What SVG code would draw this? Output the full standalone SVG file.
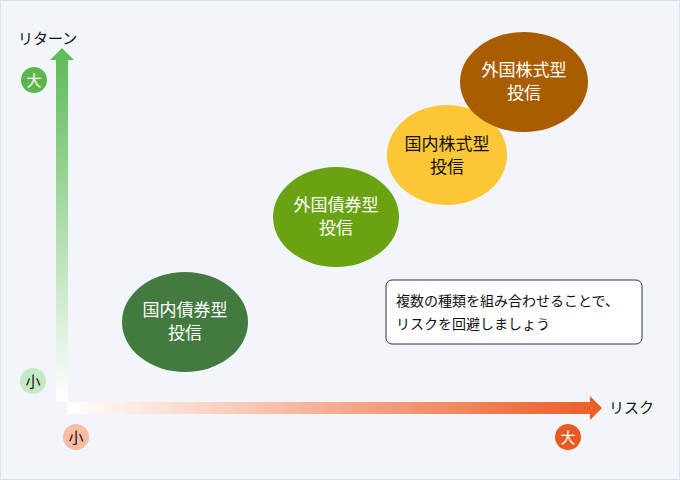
<svg xmlns="http://www.w3.org/2000/svg" width="680" height="480" viewBox="0 0 680 480">
<defs>
<linearGradient id="gv" x1="0" y1="1" x2="0" y2="0"><stop offset="0" stop-color="#ffffff"/><stop offset="1" stop-color="#5cbb55"/></linearGradient>
<linearGradient id="gh" x1="0" y1="0" x2="1" y2="0"><stop offset="0" stop-color="#ffffff"/><stop offset="1" stop-color="#ec5b24"/></linearGradient>
<style>
text{font-family:"Noto Sans CJK JP","Noto Sans",sans-serif;}
.lab{font-size:15px;fill:#111;}
.n{font-size:17px;fill:#fff;text-anchor:middle;}
.b{font-size:15px;text-anchor:middle;}
</style>
</defs>
<rect x="0.5" y="0.5" width="679" height="479" fill="#f2f6fb" stroke="#d8e0ea"/>
<g id="axes">
<path d="M56 402 V60 H50 L62 48 L74 60 H68 V402 Z" fill="url(#gv)"/>
<path d="M67 402 H590 V396 L602 408 L590 420 V414 H67 Z" fill="url(#gh)"/>
<text class="lab" x="18" y="44">リターン</text>
<text class="lab" x="609" y="413">リスク</text>
</g>
<g id="scale">
<circle cx="34" cy="80" r="13" fill="#5cb84a"/><text class="b" x="34" y="86" fill="#fff">大</text>
<circle cx="33" cy="381" r="13" fill="#c5e8c5"/><text class="b" x="33" y="387" fill="#111">小</text>
<circle cx="76" cy="437" r="13" fill="#f7bca4"/><text class="b" x="76" y="443" fill="#111">小</text>
<circle cx="568" cy="437" r="13" fill="#e65a25"/><text class="b" x="568" y="443" fill="#fff">大</text>
</g>
<g id="n1"><ellipse cx="185" cy="322" rx="63" ry="50" fill="#437a3f"/><text class="n" x="185" y="316">国内債券型</text><text class="n" x="185" y="339">投信</text></g>
<g id="n2"><ellipse cx="336" cy="217" rx="63" ry="50" fill="#6aa312"/><text class="n" x="336" y="211">外国債券型</text><text class="n" x="336" y="234">投信</text></g>
<g id="n3"><ellipse cx="447" cy="155" rx="60" ry="50" fill="#fcc736"/><text class="n" x="447" y="150" fill="#111" style="fill:#111">国内株式型</text><text class="n" x="447" y="173" style="fill:#111">投信</text></g>
<g id="n4"><ellipse cx="524" cy="82" rx="64" ry="50" fill="#a95d00"/><text class="n" x="524" y="76">外国株式型</text><text class="n" x="524" y="99">投信</text></g>
<g id="note"><rect x="386" y="280" width="256" height="64" rx="6" fill="#fff" stroke="#333"/>
<text x="396" y="306" font-size="14" fill="#111">複数の種類を組み合わせることで、</text>
<text x="396" y="329" font-size="14" fill="#111">リスクを回避しましょう</text></g>
</svg>
